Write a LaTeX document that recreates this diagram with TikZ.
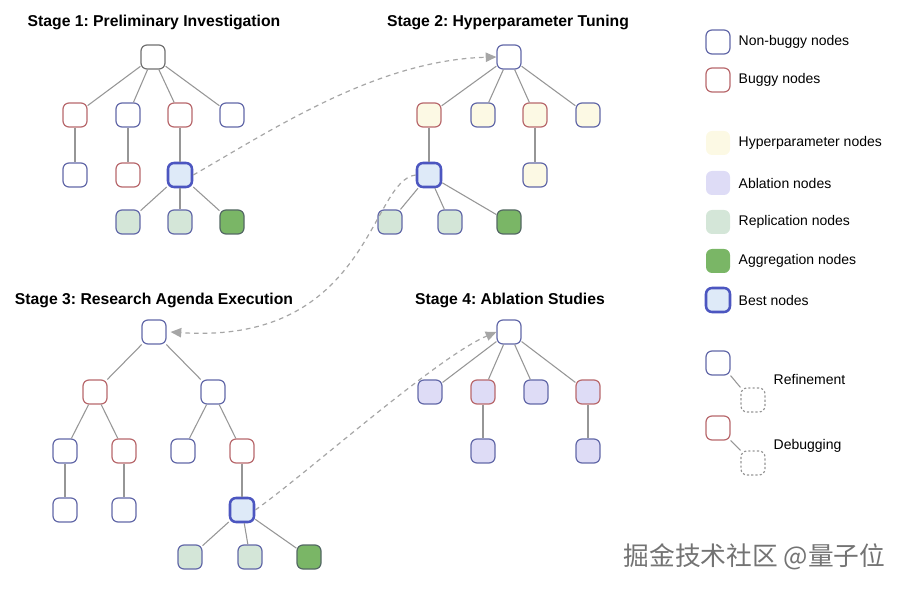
\documentclass[tikz,border=0pt]{standalone}
\usepackage{fontspec}
\setmainfont{Liberation Sans}
\newfontfamily\cjkfont{Noto Sans CJK SC}
\usepackage{tikz}
\usepackage{xcolor}
\usetikzlibrary{arrows.meta}
\frenchspacing
\definecolor{cBlue}{RGB}{98,104,168}
\definecolor{cRed}{RGB}{184,104,108}
\definecolor{cRoot}{RGB}{112,112,112}
\definecolor{cEdge}{RGB}{150,150,150}
\definecolor{cHyper}{RGB}{252,249,228}
\definecolor{cAbl}{RGB}{222,220,246}
\definecolor{cRep}{RGB}{212,230,216}
\definecolor{cAgg}{RGB}{122,182,102}
\definecolor{cAggEdge}{RGB}{84,104,100}
\definecolor{cBest}{RGB}{76,86,192}
\definecolor{cBestFill}{RGB}{222,234,248}
\tikzset{
	tnode/.style={rectangle, rounded corners=4.5pt, minimum size=18pt, inner sep=0pt, line width=0.9pt, draw=cBlue, fill=white},
	bug/.style={tnode, draw=cRed},
	hyp/.style={fill=cHyper},
	abl/.style={fill=cAbl},
	rep/.style={tnode, fill=cRep},
	agg/.style={tnode, draw=cAggEdge, fill=cAgg},
	best/.style={tnode, draw=cBest, line width=1.9pt, fill=cBestFill},
	ghost/.style={tnode, draw=cEdge, fill=none, dash pattern=on 1.6pt off 1.6pt},
	tedge/.style={draw=cEdge, line width=0.8pt},
	jump/.style={draw=cEdge!85, line width=0.9pt, dash pattern=on 3.5pt off 3pt, -{Triangle[length=8pt, width=7pt]}},
	% texts
	stitle/.style={font=\bfseries\fontsize{11.8}{14}\selectfont},
	ltext/.style={anchor=west, font=\fontsize{10.5}{13}\selectfont},
}
\begin{document}
\begin{tikzpicture}[x=0.75pt, y=-0.75pt]
\useasboundingbox (0,0) rectangle (900,591);

% Stage 1
\node[stitle] (t1) at (154,22) {Stage 1: Preliminary Investigation};
\node[tnode, draw=cRoot] (a0) at (153,57) {};
\node[bug] (a1) at (75,115) {};
\node[tnode] (a2) at (128,115) {};
\node[bug] (a3) at (180,115) {};
\node[tnode] (a4) at (232,115) {};
\node[tnode] (a5) at (75,175) {};
\node[bug] (a6) at (128,175) {};
\node[best] (a7) at (180,175) {};
\node[rep] (a8) at (128,222) {};
\node[rep] (a9) at (180,222) {};
\node[agg] (a10) at (232,222) {};
\foreach \p/\c in {a0/a1, a0/a2, a0/a3, a0/a4, a1/a5, a2/a6, a3/a7, a7/a8, a7/a9, a7/a10}
	\draw[tedge] (\p) -- (\c);

% Stage 2
\node[stitle] (t2) at (508,22) {Stage 2: Hyperparameter Tuning};
\node[tnode] (b0) at (509,57) {};
\node[bug, hyp] (b1) at (429,115) {};
\node[tnode, hyp] (b2) at (483,115) {};
\node[bug, hyp] (b3) at (535,115) {};
\node[tnode, hyp] (b4) at (588,115) {};
\node[best] (b5) at (429,175) {};
\node[tnode, hyp] (b6) at (535,175) {};
\node[rep] (b7) at (390,222) {};
\node[rep] (b8) at (450,222) {};
\node[agg] (b9) at (509,222) {};
\foreach \p/\c in {b0/b1, b0/b2, b0/b3, b0/b4, b1/b5, b3/b6, b5/b7, b5/b8, b5/b9}
	\draw[tedge] (\p) -- (\c);

% Stage 3
\node[stitle] (t3) at (154,300) {Stage 3: Research Agenda Execution};
\node[tnode] (c0) at (154,332) {};
\node[bug] (c1) at (95,392) {};
\node[tnode] (c2) at (213,392) {};
\node[tnode] (c3) at (65,451) {};
\node[bug] (c4) at (124,451) {};
\node[tnode] (c5) at (183,451) {};
\node[bug] (c6) at (242,451) {};
\node[tnode] (c7) at (65,510) {};
\node[tnode] (c8) at (124,510) {};
\node[best] (c9) at (242,510) {};
\node[rep] (c10) at (190,557) {};
\node[rep] (c11) at (250,557) {};
\node[agg] (c12) at (309,557) {};
\foreach \p/\c in {c0/c1, c0/c2, c1/c3, c1/c4, c2/c5, c2/c6, c3/c7, c4/c8, c6/c9, c9/c10, c9/c11, c9/c12}
	\draw[tedge] (\p) -- (\c);

% Stage 4
\node[stitle] (t4) at (510,300) {Stage 4: Ablation Studies};
\node[tnode] (d0) at (509,332) {};
\node[tnode, abl] (d1) at (430,392) {};
\node[bug, abl] (d2) at (483,392) {};
\node[tnode, abl] (d3) at (536,392) {};
\node[bug, abl] (d4) at (588,392) {};
\node[tnode, abl] (d5) at (483,451) {};
\node[tnode, abl] (d6) at (588,451) {};
\foreach \p/\c in {d0/d1, d0/d2, d0/d3, d0/d4, d2/d5, d4/d6}
	\draw[tedge] (\p) -- (\c);

% hand-over between stages
\draw[jump] (a7.east) .. controls (272,130) and (377,60) .. (b0.west);
\draw[jump] (b5.west) .. controls (370,180) and (370,345) .. ([xshift=3pt]c0.east);
\draw[jump] (c9.east) .. controls (305,475) and (437,357) .. (d0.west);

% legend
\node[tnode] (lg1) at (718,42) {};
\node[ltext] at (734,42) {Non-buggy nodes};
\node[bug] (lg2) at (718,80) {};
\node[ltext] at (734,80) {Buggy nodes};
\node[tnode, draw=none, fill=cHyper] (lg3) at (718,143) {};
\node[ltext] at (734,143) {Hyperparameter nodes};
\node[tnode, draw=none, fill=cAbl] (lg4) at (718,183) {};
\node[ltext] at (734,183) {Ablation nodes};
\node[tnode, draw=none, fill=cRep] (lg5) at (718,222) {};
\node[ltext] at (734,222) {Replication nodes};
\node[tnode, draw=none, fill=cAgg] (lg6) at (718,261) {};
\node[ltext] at (734,261) {Aggregation nodes};
\node[best] (lg7) at (718,300) {};
\node[ltext] at (734,300) {Best nodes};

\node[tnode] (rf1) at (718,363) {};
\node[ghost] (rf2) at (753,400) {};
\draw[tedge] (rf1.south east) -- (rf2.north west);
\node[ltext] at (769,379) {Refinement};
\node[bug] (db1) at (718,428) {};
\node[ghost] (db2) at (753,463) {};
\draw[tedge] (db1.south east) -- (db2.north west);
\node[ltext] at (769,446) {Debugging};

\node[anchor=west, text=black!55, font=\cjkfont\fontsize{19.3}{21}\selectfont] (wm) at (619,557) {掘金技术社区 @量子位};
\end{tikzpicture}
\end{document}
